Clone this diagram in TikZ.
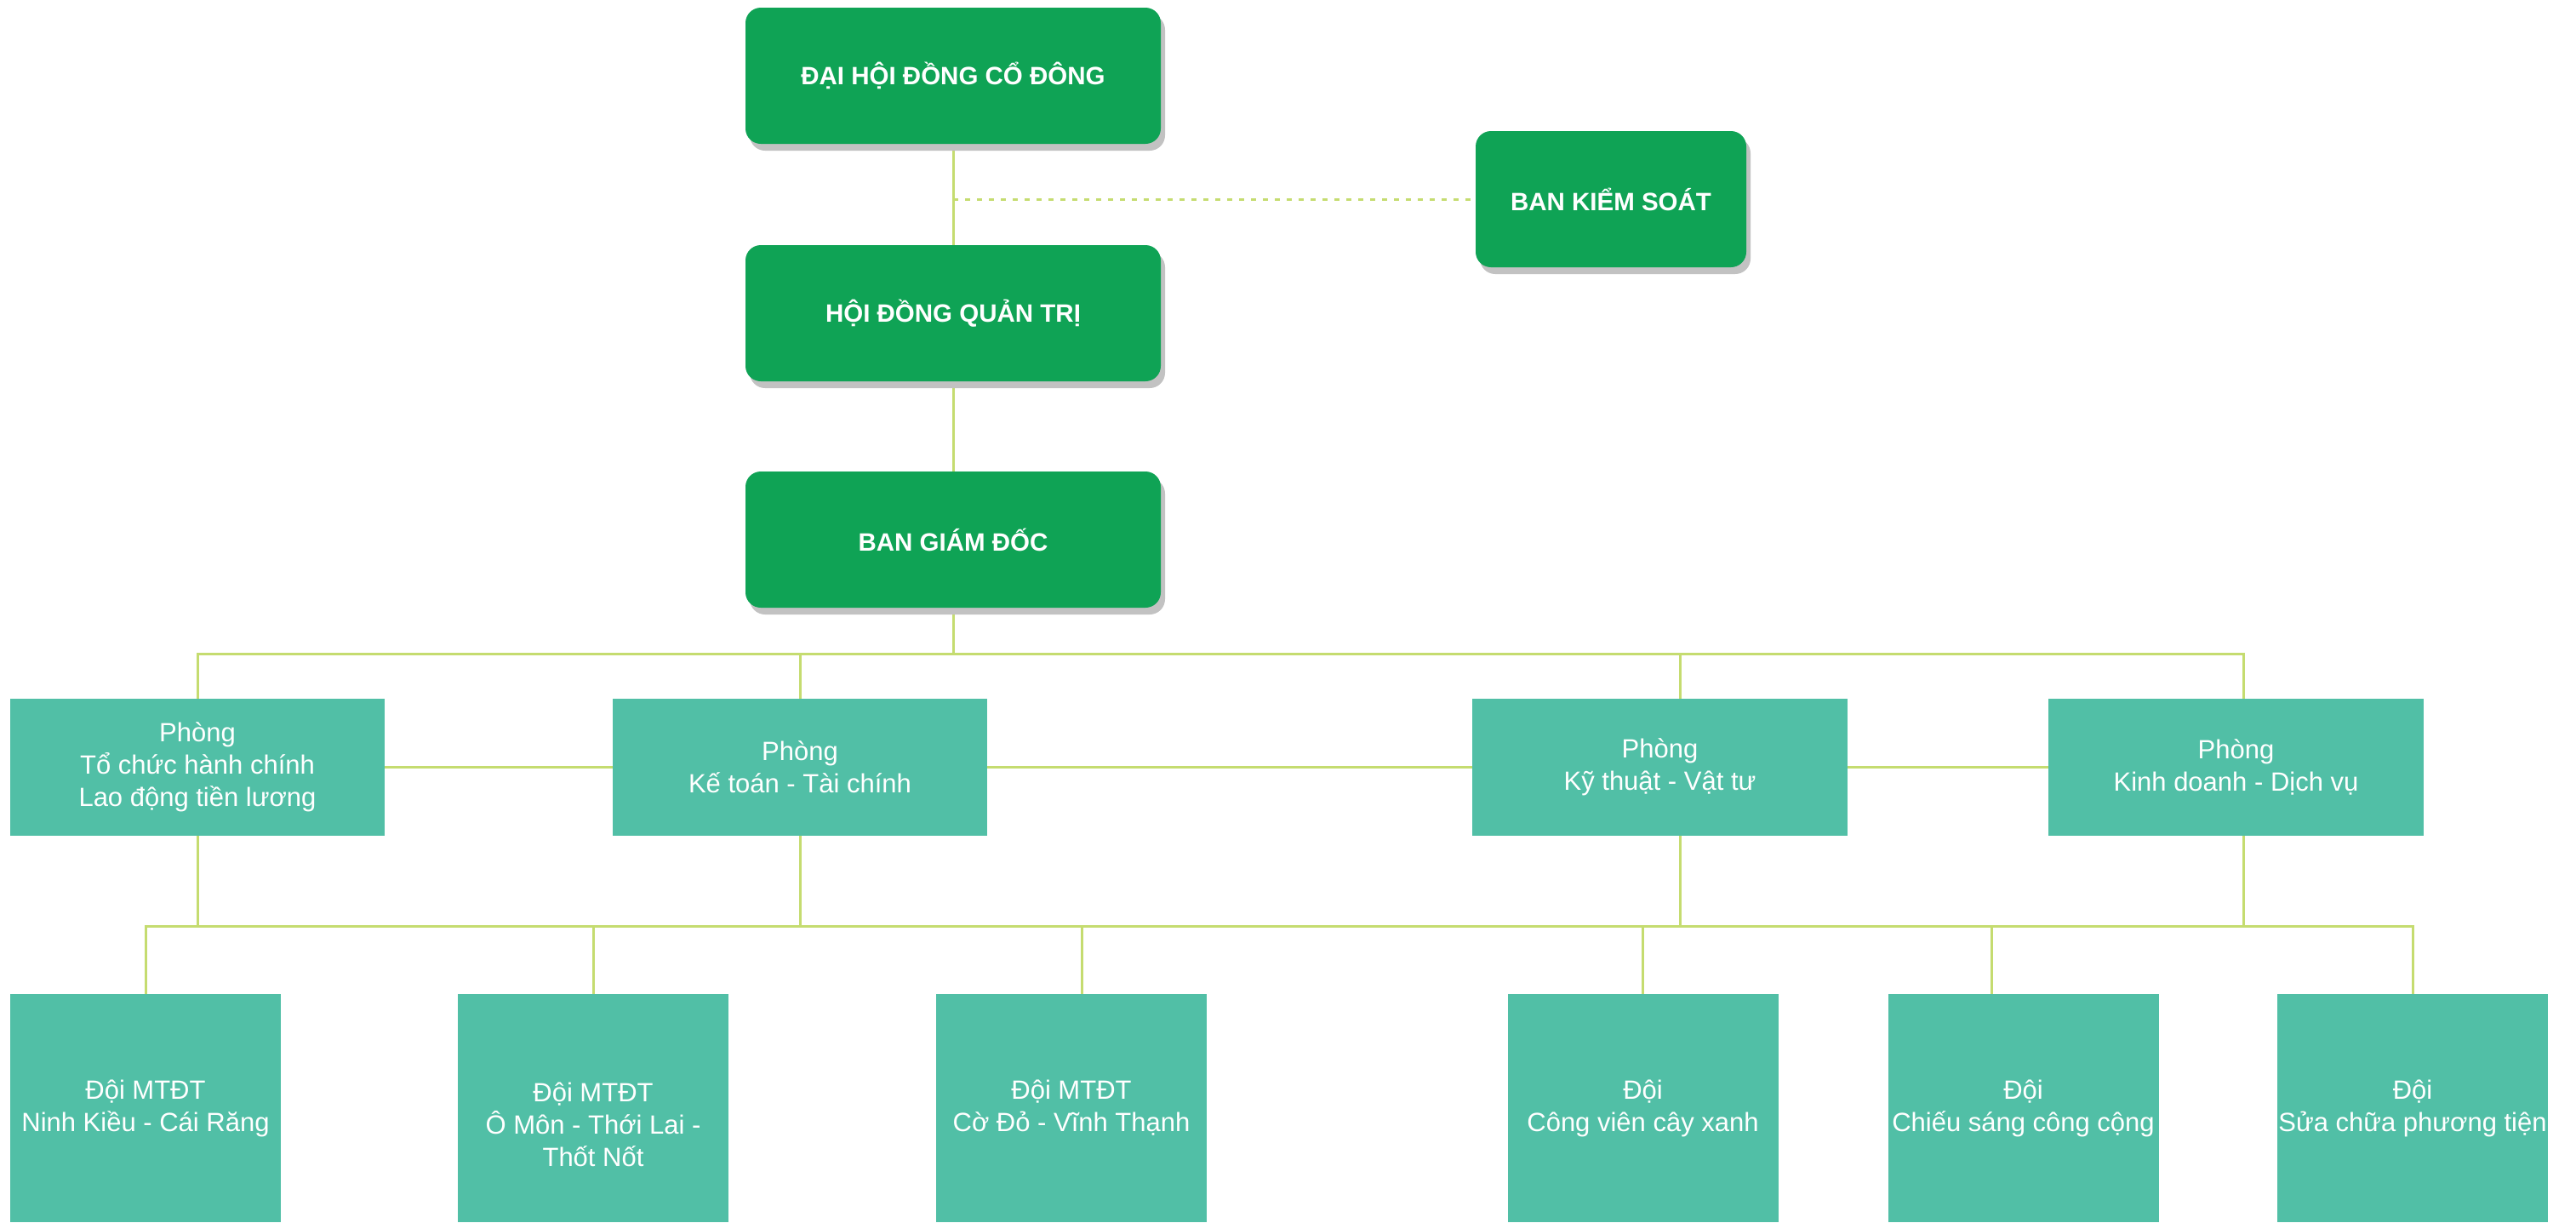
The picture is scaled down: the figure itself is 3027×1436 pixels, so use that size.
\documentclass[tikz,border=0pt]{standalone}
\usepackage{fontspec}
\setmainfont{Liberation Sans}
\usetikzlibrary{shadows,backgrounds}
\definecolor{topgreen}{HTML}{0FA355}
\definecolor{boxteal}{HTML}{51BFA6}
\definecolor{linegreen}{HTML}{C5DC70}
\definecolor{shadowgray}{HTML}{C2C2C2}
\begin{document}
\begin{tikzpicture}[x=1pt,y=-1pt,
  topbox/.style={rectangle, rounded corners=18pt, fill=topgreen, text=white,
    font=\fontsize{29.5}{36}\selectfont\bfseries, minimum height=160pt, inner sep=0pt,
    drop shadow={shadow xshift=5pt,shadow yshift=-8pt,fill=shadowgray,opacity=1}},
  deptbox/.style={rectangle, fill=boxteal, text=white, font=\fontsize{31}{38}\selectfont,
    align=center, minimum height=161pt, minimum width=440pt, inner sep=0pt},
  teambox/.style={rectangle, fill=boxteal, text=white, font=\fontsize{31}{38}\selectfont,
    align=center, minimum width=318pt, minimum height=268pt, inner sep=0pt},
  teamtext/.style={text=white, font=\fontsize{31}{38}\selectfont, align=center, inner sep=0pt},
  link/.style={draw=linegreen, line width=3pt},
  dashlink/.style={draw=linegreen, line width=3pt, dash pattern=on 6pt off 8pt}]
\useasboundingbox (0,0) rectangle (3027,1436);
% top level
\node[topbox, minimum width=488pt] (dhcd) at (1120,89) {ĐẠI HỘI ĐỒNG CỔ ĐÔNG};
\node[topbox, minimum width=488pt] (hdqt) at (1120,368) {HỘI ĐỒNG QUẢN TRỊ};
\node[topbox, minimum width=488pt] (bgd) at (1120,634) {BAN GIÁM ĐỐC};
\node[topbox, minimum width=318pt] (bks) at (1893,234) {BAN KIỂM SOÁT};
% departments
\node[deptbox] (p1) at (232,901.5) {Phòng\\Tổ chức hành chính\\Lao động tiền lương};
\node[deptbox] (p2) at (940,901.5) {Phòng\\Kế toán - Tài chính};
\node[deptbox, minimum width=441pt] (p3) at (1950.5,901.5) {Phòng\\Kỹ thuật - Vật tư};
\node[deptbox, minimum width=441pt] (p4) at (2627.5,901.5) {Phòng\\Kinh doanh - Dịch vụ};
% teams
\node[teambox] (t1) at (171,1302) {Đội MTĐT\\Ninh Kiều - Cái Răng};
\node[teambox] (t2) at (697,1302) {};
\node[teamtext] (t2l) at ([yshift=-19pt]t2.center) {Đội MTĐT\\Ô Môn - Thới Lai -\\Thốt Nốt};
\node[teambox] (t3) at (1259,1302) {Đội MTĐT\\Cờ Đỏ - Vĩnh Thạnh};
\node[teambox] (t4) at (1930.5,1302) {Đội\\Công viên cây xanh};
\node[teambox] (t5) at (2377.5,1302) {Đội\\Chiếu sáng công cộng};
\node[teambox] (t6) at (2835,1302) {Đội\\Sửa chữa phương tiện};
% connector helper points
\coordinate (bus1) at (1120,768);
\coordinate (bus2) at (1120,1088);
\coordinate (p3n) at ([xshift=23.5pt]p3.north);
\coordinate (p3s) at ([xshift=23.5pt]p3.south);
\coordinate (p4n) at ([xshift=8.5pt]p4.north);
\coordinate (p4s) at ([xshift=8.5pt]p4.south);
\coordinate (t3n) at ([xshift=12pt]t3.north);
\coordinate (t5n) at ([xshift=-37.5pt]t5.north);
\begin{scope}[on background layer]
\fill[white] (0,0) rectangle (3027,1436);
\draw[link] (dhcd.south) -- (hdqt.north);
\draw[dashlink] (dhcd.south |- bks.west) -- (bks.west);
\draw[link] (hdqt.south) -- (bgd.north);
\draw[link] (bgd.south) -- (bus1);
\draw[link] (p1.north) -- (p1.north |- bus1) -- (p4n |- bus1) -- (p4n);
\draw[link] (p2.north) -- (p2.north |- bus1);
\draw[link] (p3n) -- (p3n |- bus1);
\draw[link] (p1.east) -- (p2.west);
\draw[link] (p2.east) -- (p3.west);
\draw[link] (p3.east) -- (p4.west);
\draw[link] (p1.south) -- (p1.south |- bus2);
\draw[link] (p2.south) -- (p2.south |- bus2);
\draw[link] (p3s) -- (p3s |- bus2);
\draw[link] (p4s) -- (p4s |- bus2);
\draw[link] (t1.north) -- (t1.north |- bus2) -- (t6.north |- bus2) -- (t6.north);
\draw[link] (t2.north) -- (t2.north |- bus2);
\draw[link] (t3n) -- (t3n |- bus2);
\draw[link] (t4.north) -- (t4.north |- bus2);
\draw[link] (t5n) -- (t5n |- bus2);
\end{scope}
\end{tikzpicture}
\end{document}
